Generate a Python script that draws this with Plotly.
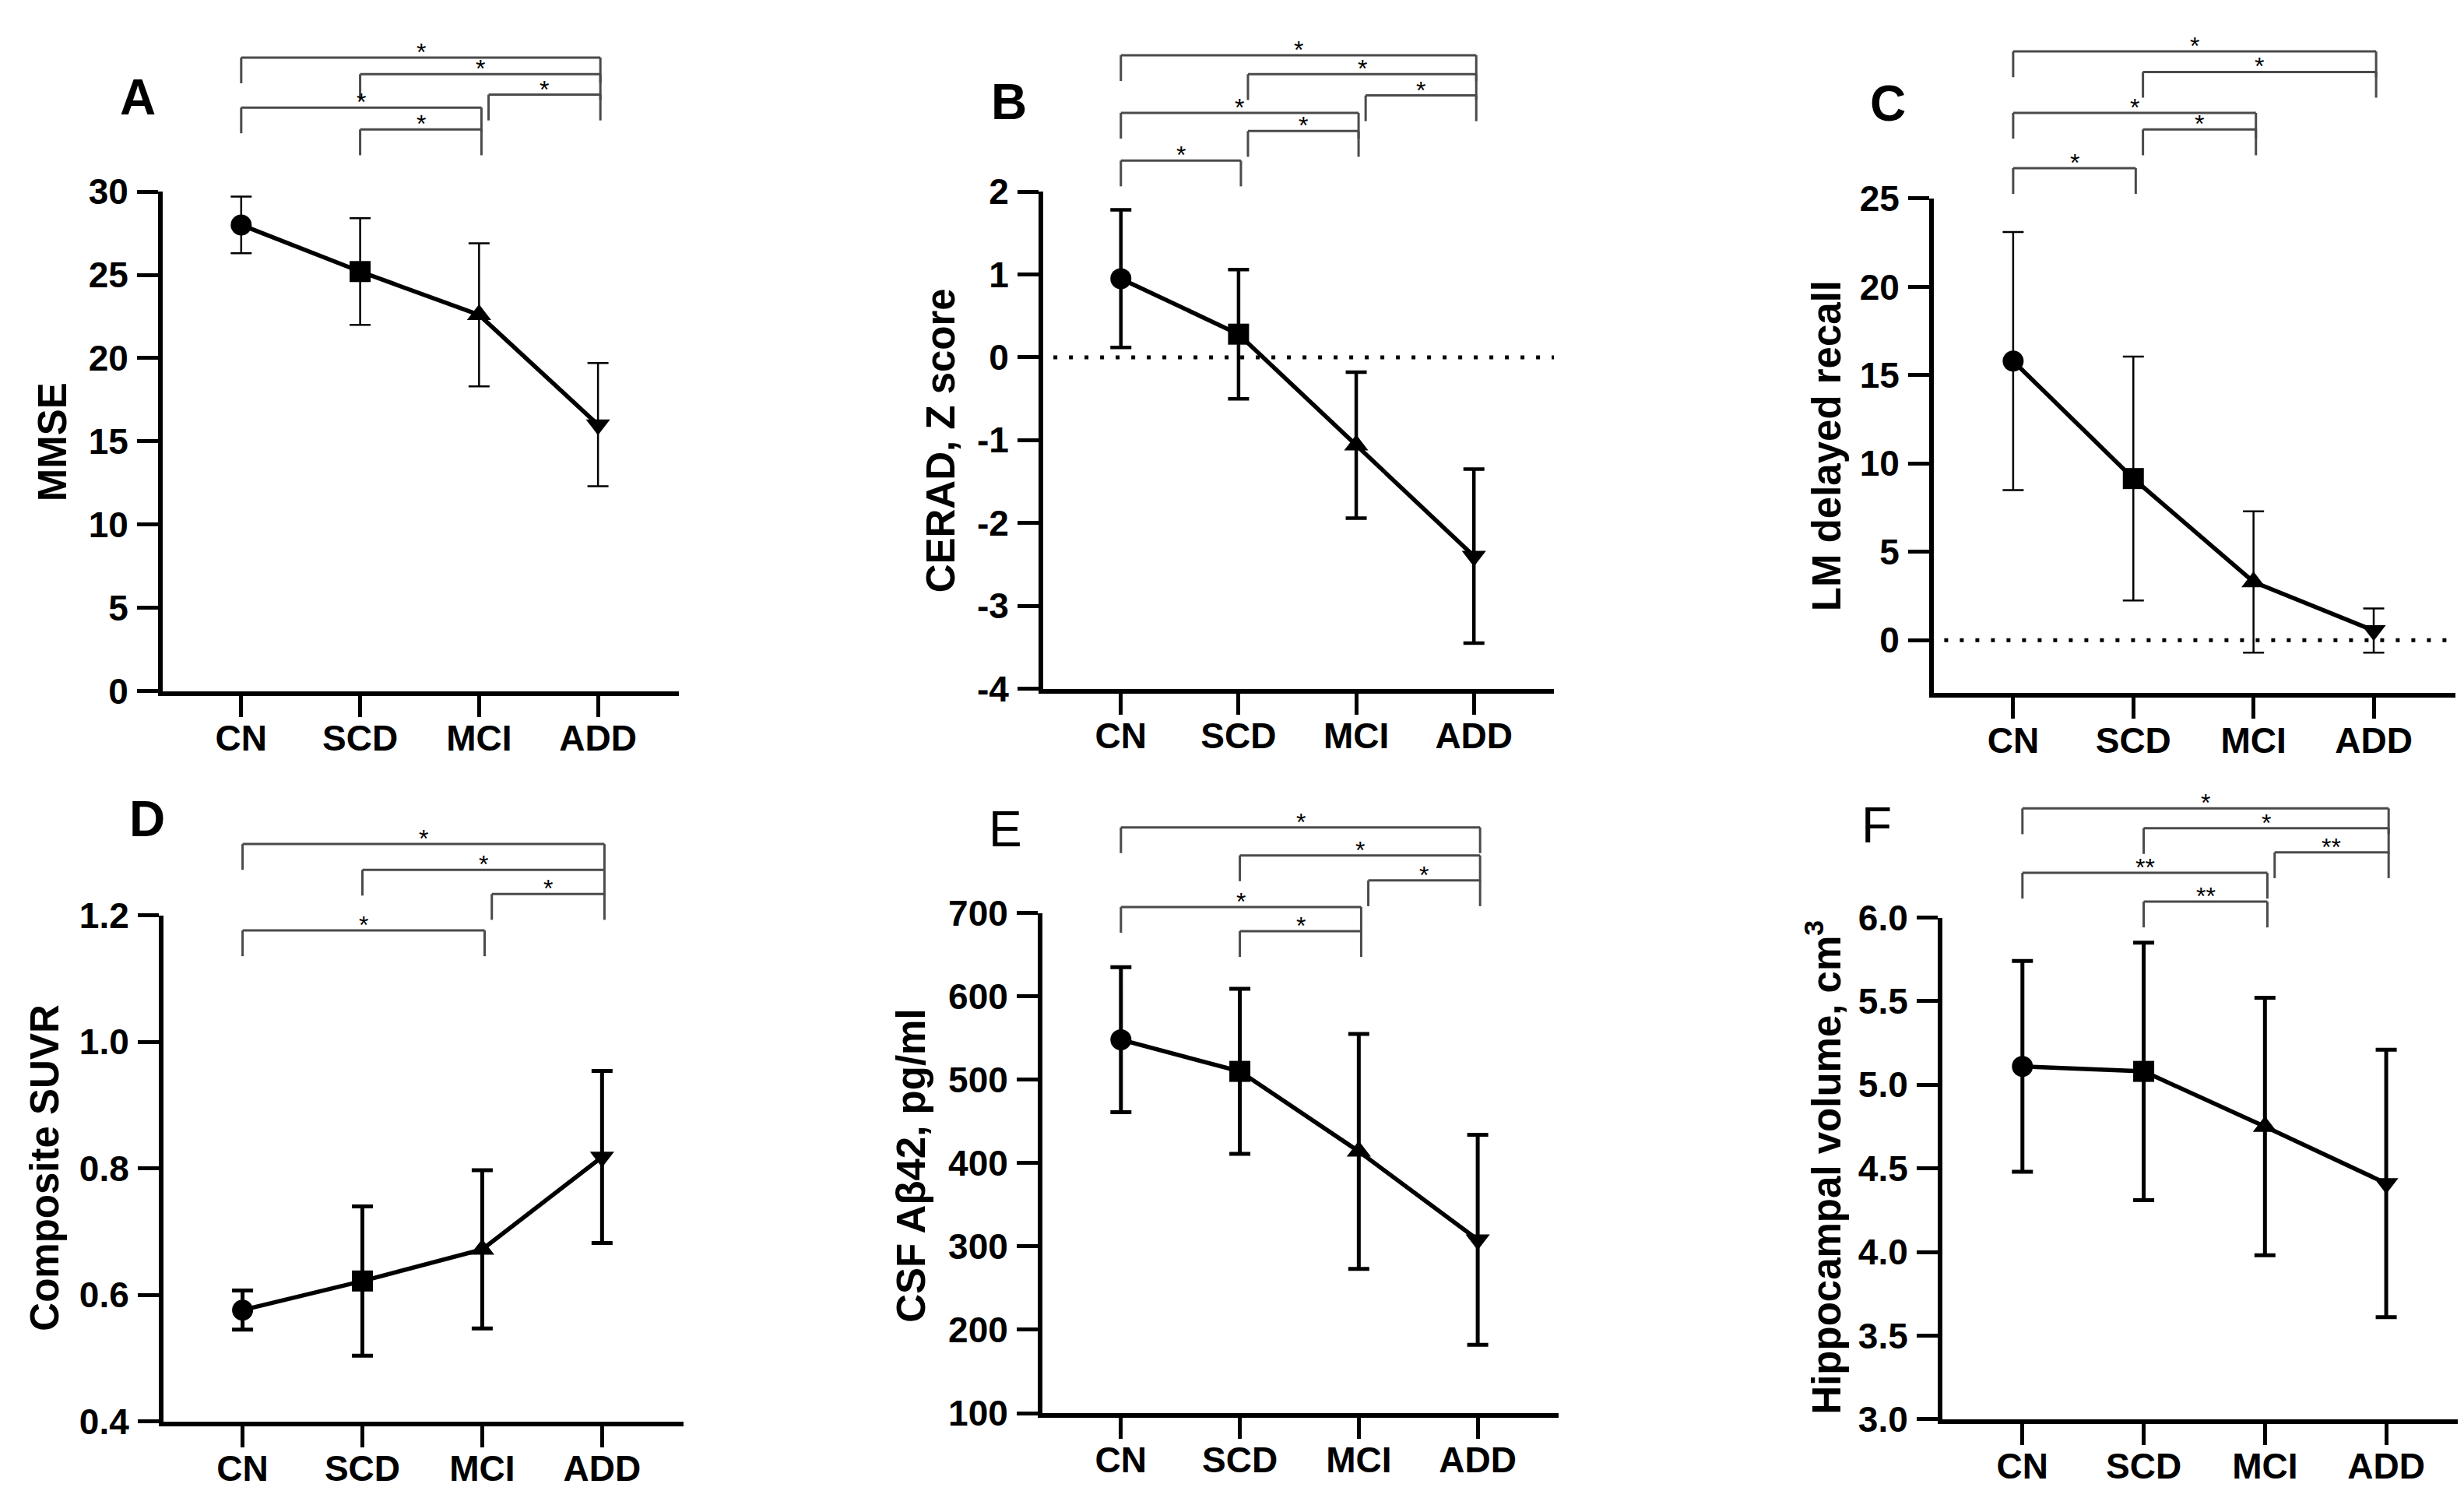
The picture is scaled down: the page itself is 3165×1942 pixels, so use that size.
import plotly.graph_objects as go

W, H = 3165, 1942
FONT = "Liberation Sans, Arial, sans-serif"

groups = ["CN", "SCD", "MCI", "ADD"]
symbols = ["circle", "square", "triangle-up", "triangle-down"]

# group means and SD
mmse_mean = [28.0, 25.2, 22.6, 16.0]
mmse_sd = [1.7, 3.2, 4.3, 3.7]
cerad_mean = [0.95, 0.28, -1.06, -2.40]
cerad_sd = [0.83, 0.78, 0.88, 1.05]
lm_mean = [15.8, 9.15, 3.3, 0.55]
lm_sd = [7.3, 6.9, 4.0, 1.25]
suvr_mean = [0.576, 0.622, 0.672, 0.818]
suvr_sd = [0.031, 0.118, 0.125, 0.136]
abeta_mean = [548, 510, 414, 308]
abeta_sd = [87, 99, 141, 126]
hippo_mean = [5.11, 5.08, 4.75, 4.41]
hippo_sd = [0.63, 0.77, 0.77, 0.80]

# significance brackets, top to bottom
sig_a = [("CN", "ADD", "*"), ("SCD", "ADD", "*"), ("MCI", "ADD", "*"), ("CN", "MCI", "*"), ("SCD", "MCI", "*")]
sig_b = [("CN", "ADD", "*"), ("SCD", "ADD", "*"), ("MCI", "ADD", "*"), ("CN", "MCI", "*"), ("SCD", "MCI", "*"), ("CN", "SCD", "*")]
sig_c = [("CN", "ADD", "*"), ("SCD", "ADD", "*"), ("CN", "MCI", "*"), ("SCD", "MCI", "*"), ("CN", "SCD", "*")]
sig_d = [("CN", "ADD", "*"), ("SCD", "ADD", "*"), ("MCI", "ADD", "*"), ("CN", "MCI", "*")]
sig_e = [("CN", "ADD", "*"), ("SCD", "ADD", "*"), ("MCI", "ADD", "*"), ("CN", "MCI", "*"), ("SCD", "MCI", "*")]
sig_f = [("CN", "ADD", "*"), ("SCD", "ADD", "*"), ("MCI", "ADD", "**"), ("CN", "MCI", "**"), ("SCD", "MCI", "**")]

# layout of each panel (pixel boxes, label spots, bracket heights above axis top)
panels = [
    dict(letter="A", bold=True, ytitle="MMSE", mean=mmse_mean, sd=mmse_sd, sig=sig_a,
         yrange=[0, 30], ticks=[0, 5, 10, 15, 20, 25, 30], fmt="{:g}", zero=False,
         box=(201, 218, 864, 877), errw=2.5, letter_xy=(169, 94), title_xy=(59, 549),
         br=[177, 155, 128, 111, 82]),
    dict(letter="B", bold=True, ytitle="CERAD, Z score", mean=cerad_mean, sd=cerad_sd, sig=sig_b,
         yrange=[-4, 2], ticks=[-4, -3, -2, -1, 0, 1, 2], fmt="{:g}", zero=True,
         box=(1332, 218, 1988, 874), errw=4.5, letter_xy=(1288, 100), title_xy=(1200, 547),
         br=[180, 155, 127, 104, 80, 41]),
    dict(letter="C", bold=True, ytitle="LM delayed recall", mean=lm_mean, sd=lm_sd, sig=sig_c,
         yrange=[-3, 25], ticks=[0, 5, 10, 15, 20, 25], fmt="{:g}", zero=True,
         box=(2476, 227, 3146, 880), errw=2.5, letter_xy=(2417, 102), title_xy=(2338, 554),
         br=[194, 167, 113, 91, 40]),
    dict(letter="D", bold=True, ytitle="Composite SUVR", mean=suvr_mean, sd=suvr_sd, sig=sig_d,
         yrange=[0.4, 1.2], ticks=[0.4, 0.6, 0.8, 1.0, 1.2], fmt="{:.1f}", zero=False,
         box=(202, 1173, 870, 1841), errw=5, letter_xy=(181, 1046), title_xy=(50, 1507),
         br=[94, 60, 28, -20]),
    dict(letter="E", bold=False, ytitle="CSF Aβ42, pg/ml", mean=abeta_mean, sd=abeta_sd, sig=sig_e,
         yrange=[100, 700], ticks=[100, 200, 300, 400, 500, 600, 700], fmt="{:g}", zero=False,
         box=(1331, 1170, 1994, 1830), errw=5, letter_xy=(1283, 1059), title_xy=(1163, 1504),
         br=[113, 76, 43, 8, -24]),
    dict(letter="F", bold=False, ytitle="Hippocampal volume, cm<sup>3</sup>", mean=hippo_mean, sd=hippo_sd, sig=sig_f,
         yrange=[3, 6], ticks=[3.0, 3.5, 4.0, 4.5, 5.0, 5.5, 6.0], fmt="{:.1f}", zero=False,
         box=(2487, 1176, 3163, 1838), errw=5, letter_xy=(2402, 1054), title_xy=(2334, 1506),
         br=[144, 118, 86, 59, 21]),
]

fig = go.Figure()
shapes, annotations = [], []
xpos = list(range(len(groups)))
LEG = 34

for i, p in enumerate(panels, start=1):
    sfx = "" if i == 1 else str(i)
    x0, y0, x1, y1 = p["box"]
    plot_h = y1 - y0

    fig.add_trace(go.Scatter(
        x=xpos, y=p["mean"], xaxis="x" + sfx, yaxis="y" + sfx,
        mode="lines+markers",
        line=dict(color="black", width=5.5),
        marker=dict(symbol=symbols, size=27, color="black"),
        error_y=dict(type="data", array=p["sd"], color="black",
                     thickness=p["errw"], width=13.5),
        showlegend=False, cliponaxis=False,
    ))

    axis_common = dict(
        showline=True, linecolor="black", linewidth=6, mirror=False,
        ticks="outside", ticklen=27, tickwidth=5, tickcolor="black",
        showgrid=False, zeroline=False, fixedrange=True,
        tickfont=dict(family=FONT, size=46, color="black", weight="bold"),
    )
    fig.update_layout({
        "xaxis" + sfx: dict(axis_common, domain=[x0 / W, x1 / W], range=[-0.66, 3.68],
                            tickvals=xpos, ticktext=groups, anchor="y" + sfx,
                            ticklabelstandoff=-12),
        "yaxis" + sfx: dict(axis_common, domain=[1 - y1 / H, 1 - y0 / H], range=p["yrange"],
                            tickvals=p["ticks"], ticktext=[p["fmt"].format(v) for v in p["ticks"]],
                            anchor="x" + sfx, ticklabelstandoff=2),
    })

    if p["zero"]:
        shapes.append(dict(type="line", xref="x" + sfx + " domain", yref="y" + sfx,
                           x0=0.02, x1=1.0, y0=0, y1=0,
                           line=dict(color="black", width=5, dash="5px,15px")))

    # significance brackets
    ends = [groups.index(b) for a, b, _ in p["sig"]]
    for (a, b, lab), off in zip(p["sig"], p["br"]):
        ia, ib = groups.index(a), groups.index(b)
        xa = ia + (0.08 if ia in ends else 0.0)
        xb = ib + 0.02
        yl = 1 + off / plot_h
        yb = 1 + (off - LEG) / plot_h
        for sx0, sy0, sx1, sy1 in [(xa, yb, xa, yl), (xa, yl, xb, yl), (xb, yl, xb, yb)]:
            shapes.append(dict(type="line", xref="x" + sfx, yref="y" + sfx + " domain",
                               x0=sx0, y0=sy0, x1=sx1, y1=sy1,
                               line=dict(color="#4a4a4a", width=3)))
        annotations.append(dict(xref="x" + sfx, yref="y" + sfx + " domain",
                                x=(xa + xb) / 2, y=yl, text=lab, showarrow=False,
                                xanchor="center", yanchor="bottom", yshift=-13,
                                font=dict(family=FONT, size=32, color="black")))

    lx, ly = p["letter_xy"]
    annotations.append(dict(xref="paper", yref="paper", x=lx / W, y=1 - ly / H,
                            text=p["letter"], showarrow=False, xanchor="center", yanchor="middle",
                            font=dict(family=FONT, size=64, color="black",
                                      weight="bold" if p["bold"] else "normal")))
    tx, ty = p["title_xy"]
    annotations.append(dict(xref="paper", yref="paper", x=tx / W, y=1 - ty / H,
                            text=p["ytitle"], textangle=-90, showarrow=False,
                            xanchor="center", yanchor="middle",
                            font=dict(family=FONT, size=51, color="black", weight="bold")))

fig.update_layout(
    width=W, height=H,
    margin=dict(l=0, r=0, t=0, b=0),
    paper_bgcolor="white", plot_bgcolor="white",
    shapes=shapes, annotations=annotations,
)

fig.write_html("out.html")
